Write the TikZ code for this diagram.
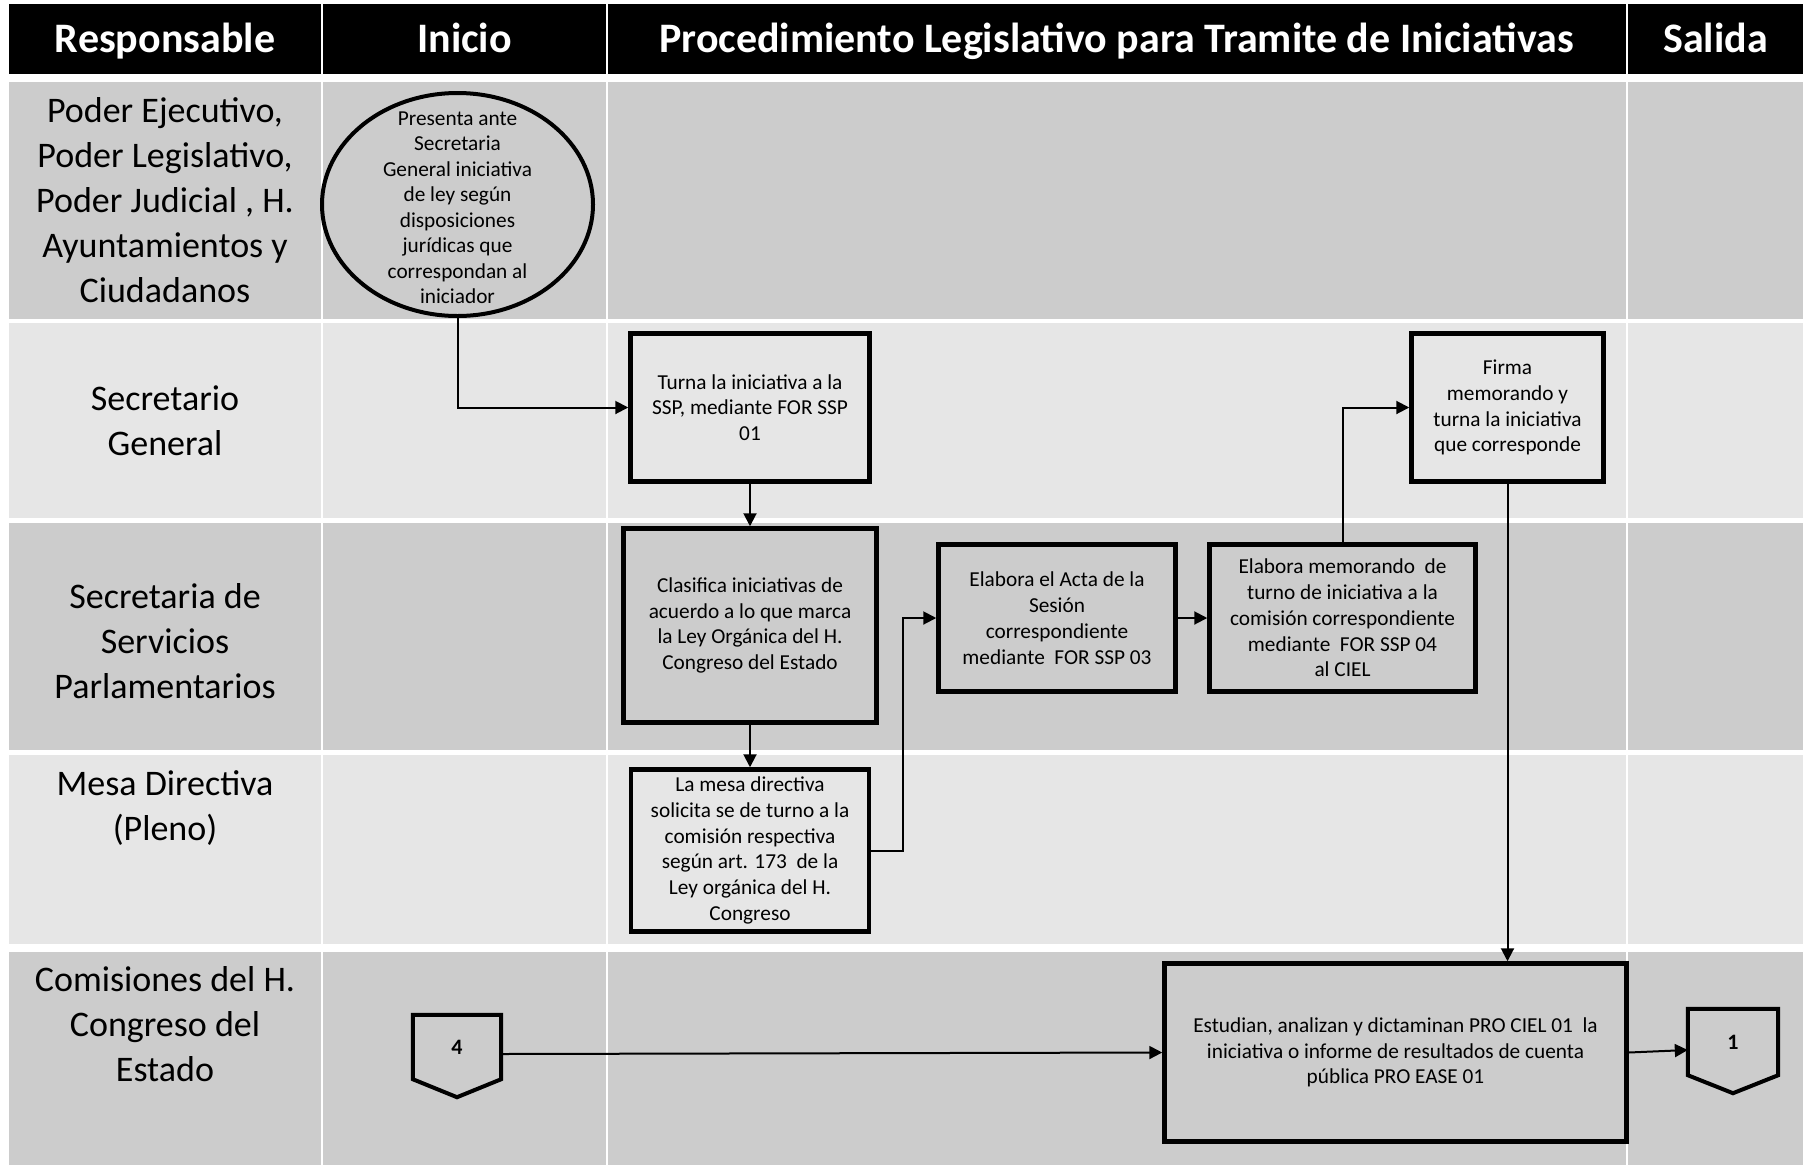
\documentclass[tikz,border=0pt]{standalone}
\usepackage{fontspec}
\setmainfont{Carlito}
\usetikzlibrary{shapes,arrows.meta}
\definecolor{lanedark}{HTML}{CCCCCC}
\definecolor{lanelight}{HTML}{E6E6E6}

\begin{document}
\begin{tikzpicture}[x=1pt,y=-1pt]
    \tikzstyle{header}=[text=white, anchor=base, font=\fontsize{42}{50}\selectfont\bfseries]
    \tikzstyle{lane}=[align=center, font=\fontsize{36}{45}\selectfont]
    \tikzstyle{proc}=[rectangle, draw, line width=4.5pt, align=center, inner sep=0pt, font=\fontsize{21.3}{25.8}\selectfont]
    \tikzstyle{start}=[ellipse, draw, line width=4pt, align=center, inner xsep=0pt, inner ysep=-28pt, minimum width=271pt, minimum height=223pt, font=\fontsize{21.3}{25.5}\selectfont]
    \tikzstyle{offpage}=[rectangle, inner sep=0pt, font=\fontsize{22}{26}\selectfont\bfseries]
    \tikzstyle{flow}=[line width=2pt, -{Triangle[length=13pt,width=13pt]}]

    \useasboundingbox (0,0) rectangle (1803,1165);

    \fill[black] (9,4) rectangle (1803,74);
    \foreach \ytop/\ybot/\shade in {82/319/lanedark, 323/518/lanelight, 523/750/lanedark, 755/944/lanelight, 952/1165/lanedark}
        \fill[\shade] (9,\ytop) rectangle (1803,\ybot);
    \foreach \xsep in {322,607,1627}
        \draw[white, line width=2.5pt] (\xsep,0) -- (\xsep,1165);

    \node[header] (hresp) at (165,52) {Responsable};
    \node[header] (hini) at (464.5,52) {Inicio};
    \node[header] (hproc) at (1116.5,52) {Procedimiento Legislativo para Tramite de Iniciativas};
    \node[header] (hsal) at (1715.5,52) {Salida};

    \node[lane] (poderes) at (165,200) {Poder Ejecutivo,\\Poder Legislativo,\\Poder Judicial , H.\\Ayuntamientos y\\Ciudadanos};
    \node[lane] (secgral) at (165,421) {Secretario\\General};
    \node[lane] (servparl) at (165,641.5) {Secretaria de\\Servicios\\Parlamentarios};
    \node[lane] (mesadir) at (165,808) {Mesa Directiva\\(Pleno)};
    \node[lane] (comis) at (165,1024) {Comisiones del H.\\Congreso del\\Estado};

    \node[start] (presenta) at (457.5,204.5) {\rule{0pt}{20pt}Presenta ante\\Secretaria\\General iniciativa\\de ley según\\disposiciones\\jurídicas que\\correspondan al\\iniciador};
    \node[proc, minimum width=239pt, minimum height=148pt] (turna) at (750,407.5) {Turna la iniciativa a la\\SSP, mediante  FOR SSP\\01};
    \node[proc, minimum width=253pt, minimum height=194pt] (clasifica) at (750,625.5) {Clasifica iniciativas de\\acuerdo a lo que marca\\la Ley Orgánica del H.\\Congreso del Estado};
    \node[proc, minimum width=238pt, minimum height=162pt] (mesa) at (750,850.5) {La mesa directiva\\solicita se de turno a la\\comisión respectiva\\según art. 173~ de la\\Ley orgánica del H.\\Congreso};
    \node[proc, minimum width=237pt, minimum height=147pt] (acta) at (1057,618) {Elabora el Acta de la\\Sesión\\correspondiente\\mediante~ FOR SSP 03};
    \node[proc, minimum width=266pt, minimum height=147pt] (memo) at (1342.5,618) {Elabora memorando~ de\\turno de iniciativa a la\\comisión correspondiente\\mediante~ FOR SSP 04\\al CIEL};
    \node[proc, minimum width=192pt, minimum height=148pt] (firma) at (1507.5,407.5) {Firma\\memorando y\\turna la iniciativa\\que corresponde};
    \node[proc, minimum width=462pt, minimum height=178pt] (estudian) at (1395.5,1052.5) {Estudian, analizan y dictaminan PRO CIEL 01~ la\\iniciativa o informe de resultados de cuenta\\pública PRO EASE 01};

    \node[offpage, minimum width=88pt, minimum height=64pt] (c4) at (457,1047) {4};
    \node[offpage, minimum width=90pt, minimum height=66pt] (c1) at (1733,1042) {1};
    \foreach \c in {c4,c1}
        \draw[line width=4pt] (\c.north west) -- (\c.north east) -- (\c.south east) -- ([yshift=-18pt]\c.south) -- (\c.south west) -- cycle;

    \draw[flow] (presenta.south) |- (turna.west);
    \draw[flow] (turna.south) -- (clasifica.north);
    \draw[flow] (clasifica.south) -- (mesa.north);
    \draw[flow] (mesa.east) -- ++(32,0) |- (acta.west);
    \draw[flow] (acta.east) -- (memo.west);
    \draw[flow] (memo.north) |- (firma.west);
    \draw[flow] (firma.south) -- (firma.south |- estudian.north);
    \draw[flow] ([yshift=-7pt]c4.east) -- (estudian.west);
    \draw[flow] (estudian.east) -- ([yshift=-8pt]c1.west);
\end{tikzpicture}
\end{document}
